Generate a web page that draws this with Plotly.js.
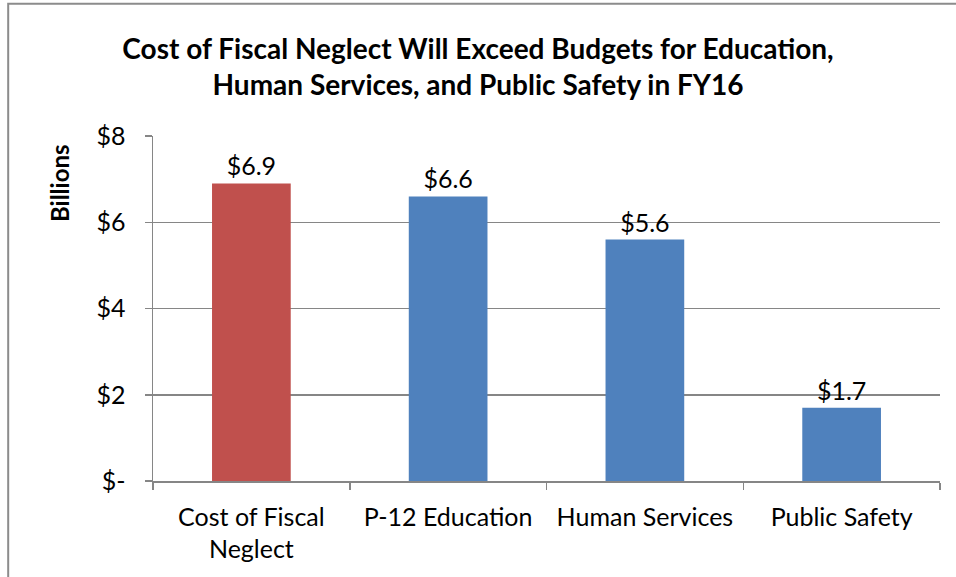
<!DOCTYPE html>
<html>
<head>
<meta charset="utf-8">
<script src="https://cdn.plot.ly/plotly-3.0.1.min.js"></script>
<style>
  html, body { margin: 0; padding: 0; background: #fff; }
  #chart { width: 956px; height: 577px; }
</style>
</head>
<body>
<div id="chart"></div>
<script>
const categories = ["Cost of Fiscal<br>Neglect", "P-12 Education", "Human Services", "Public Safety"];
const values = [6.9, 6.6, 5.6, 1.7];
const barColors = ["#C0504D", "#4F81BD", "#4F81BD", "#4F81BD"];
const yTickVals = [0, 2, 4, 6, 8];
const yTickText = ["$-", "$2", "$4", "$6", "$8"];
const titleText = "Cost of Fiscal Neglect Will Exceed Budgets for Education,<br>Human Services, and Public Safety in FY16";
const yTitle = "Billions";

const FONT = "Lato, 'Open Sans', sans-serif";

const trace = {
  type: "bar",
  x: categories,
  y: values,
  marker: { color: barColors, line: { width: 0 } },
  text: values.map(v => "$" + v.toFixed(1)),
  textposition: "outside",
  textfont: { family: FONT, size: 25, color: "#000" },
  cliponaxis: false,
  hoverinfo: "x+y"
};

const layout = {
  width: 956,
  height: 577,
  margin: { l: 153, r: 16, t: 136, b: 96 },
  paper_bgcolor: "#fff",
  plot_bgcolor: "#fff",
  bargap: 0.6,
  showlegend: false,
  font: { family: FONT, color: "#000" },
  title: {
    text: "<b>" + titleText + "</b>",
    font: { family: FONT, size: 28, color: "#000" },
    x: 0.5,
    xanchor: "center",
    y: 1 - 59 / 577,
    yanchor: "middle"
  },
  xaxis: {
    type: "category",
    tickson: "boundaries",
    ticks: "outside",
    ticklen: 7,
    tickcolor: "#868686",
    tickwidth: 1.5,
    showline: true,
    linecolor: "#868686",
    linewidth: 1.5,
    tickfont: { family: FONT, size: 25, color: "#000" },
    ticklabelstandoff: 13,
    showgrid: false
  },
  yaxis: {
    range: [0, 8],
    tickvals: yTickVals,
    ticktext: yTickText,
    ticks: "outside",
    ticklen: 7,
    tickcolor: "#868686",
    tickwidth: 1.5,
    showline: true,
    linecolor: "#868686",
    linewidth: 1.5,
    showgrid: true,
    gridcolor: "#868686",
    gridwidth: 1.5,
    zeroline: false,
    tickfont: { family: FONT, size: 25, color: "#000" },
    ticklabelstandoff: 14
  },
  annotations: [{
    text: "<b>" + yTitle + "</b>",
    textangle: -90,
    xref: "paper", yref: "paper",
    x: -0.118, y: 0.864,
    xanchor: "center", yanchor: "middle",
    showarrow: false,
    font: { family: FONT, size: 24, color: "#000" }
  }],
  shapes: [{
    type: "rect",
    xref: "paper", yref: "paper",
    x0: -0.184, x1: 1.5, y0: -1, y1: 1.383,
    line: { color: "#8C8C8C", width: 2 },
    fillcolor: "rgba(0,0,0,0)",
    layer: "below"
  }]
};

Plotly.newPlot("chart", [trace], layout, { displayModeBar: false, staticPlot: true });
</script>
</body>
</html>
